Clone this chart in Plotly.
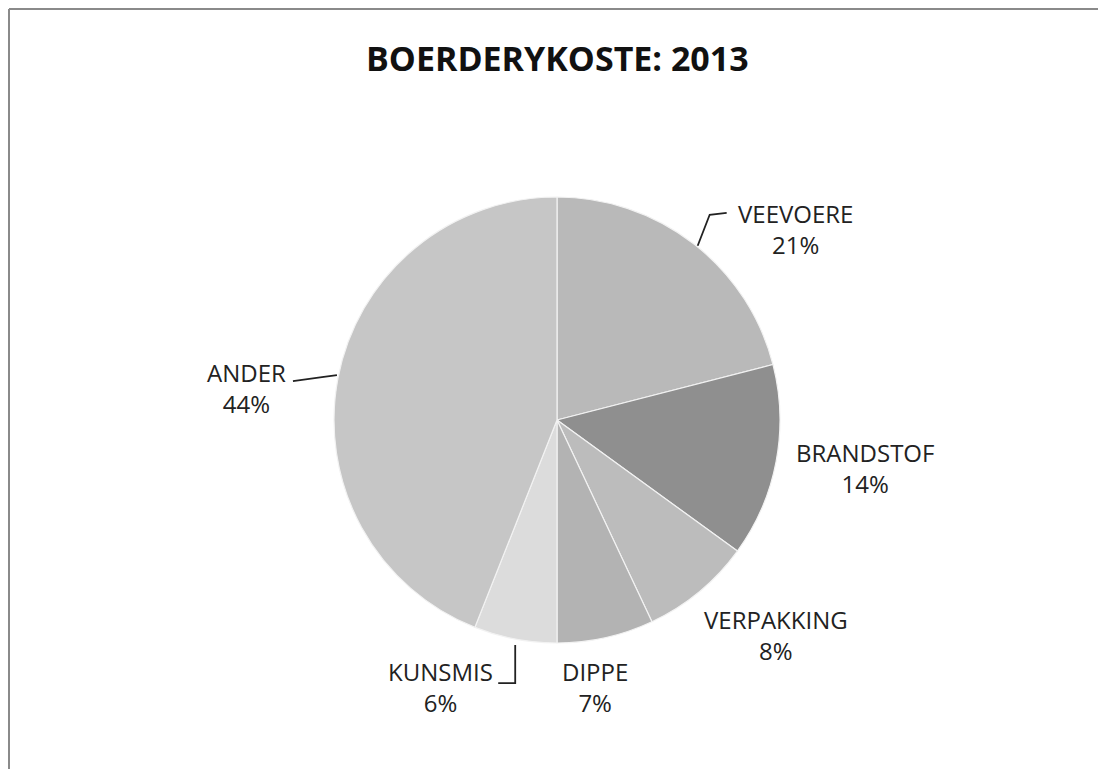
import math
import plotly.graph_objects as go

# ---- data ----
categories = ["VEEVOERE", "BRANDSTOF", "VERPAKKING", "DIPPE", "KUNSMIS", "ANDER"]
values = [21, 14, 8, 7, 6, 44]
title_text = "BOERDERYKOSTE: 2013"

# ---- style ----
colors = ["#b9b9b9", "#8f8f8f", "#bcbcbc", "#b3b3b3", "#dcdcdc", "#c6c6c6"]
# label offsets (pixels) from the slice's outer edge point
label_offsets = [(102, -15), (89, 6), (77, 43), (-11, 49), (-75, 48), (-91, 10)]
# leader-line polylines as pixel offsets from the slice's outer edge point (None = no line)
leaders = [
    [(4, 2), (16, -29), (33, -31)],
    None,
    None,
    None,
    [(0, 6), (0, 44), (-17, 44)],
    [(-1, -3), (-16, -1), (-45, 3)],
]

W, H = 1106, 769
OFF = 8  # page body margin offset
CX, CY, R = 557 - OFF, 420 - OFF, 223  # pie geometry in pixels


def px(x):
    return x / W


def py(y):
    return 1 - y / H


fig = go.Figure(go.Pie(
    labels=categories,
    values=values,
    sort=False,
    direction="clockwise",
    rotation=0,
    textinfo="none",
    hoverinfo="label+percent",
    marker=dict(colors=colors, line=dict(color="#f2f2f2", width=1.2)),
    domain=dict(x=[px(CX - R), px(CX + R)], y=[py(CY + R), py(CY - R)]),
    showlegend=False,
))

total = sum(values)
annotations = []
shapes = []
cum = 0
for cat, v, (ax, ay), ld in zip(categories, values, label_offsets, leaders):
    mid = (cum + v / 2) / total * 2 * math.pi
    cum += v
    ex = CX + R * math.sin(mid)
    ey = CY - R * math.cos(mid)
    pct = round(v / total * 100)
    annotations.append(dict(
        x=px(ex), y=py(ey), xref="paper", yref="paper",
        ax=ax, ay=ay, axref="pixel", ayref="pixel",
        text=f"{cat}<br>{pct}%",
        showarrow=True, arrowhead=0, arrowwidth=1,
        arrowcolor="rgba(0,0,0,0)",
        font=dict(family="Open Sans", size=24, color="#222222"),
        align="center",
    ))
    if ld:
        path = " ".join(
            ("M" if i == 0 else "L") + f" {px(ex + dx):.5f},{py(ey + dy):.5f}"
            for i, (dx, dy) in enumerate(ld)
        )
        shapes.append(dict(type="path", xref="paper", yref="paper", path=path,
                           line=dict(color="#222222", width=1.8)))

annotations.append(dict(
    x=px(557 - OFF), y=py(58 - OFF), xref="paper", yref="paper",
    text=f"<b>{title_text}</b>", showarrow=False,
    font=dict(family="Open Sans", size=34, color="#111111"),
    xanchor="center", yanchor="middle",
))

# frame: top and left edges
shapes.append(dict(type="line", xref="paper", yref="paper",
                   x0=px(1), x1=1.1, y0=py(1), y1=py(1),
                   line=dict(color="#8a8a8a", width=2)))
shapes.append(dict(type="line", xref="paper", yref="paper",
                   x0=px(1), x1=px(1), y0=-0.1, y1=py(1),
                   line=dict(color="#8a8a8a", width=2)))

fig.update_layout(
    width=W, height=H,
    margin=dict(l=0, r=0, t=0, b=0),
    paper_bgcolor="white",
    plot_bgcolor="white",
    annotations=annotations,
    shapes=shapes,
)

fig.write_html("out.html")
